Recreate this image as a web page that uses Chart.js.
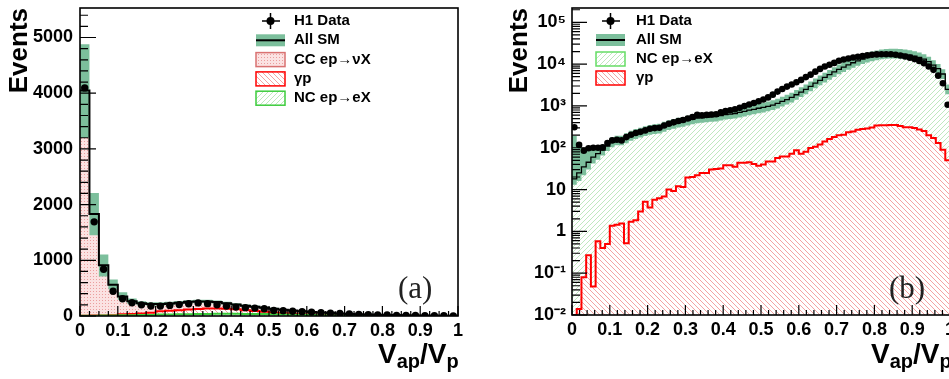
<!DOCTYPE html>
<html>
<head>
<meta charset="utf-8">
<script src="https://cdn.jsdelivr.net/npm/chart.js@4.4.1/dist/chart.umd.min.js"></script>
<style>
html, body { margin: 0; padding: 0; background: #fff; overflow: hidden; }
#wrap { position: relative; width: 949px; height: 379px; overflow: hidden; background: #fff; }
canvas { position: absolute; top: 0; }
.xt { position: absolute; top: 340px; font: bold 28px/28px "Liberation Sans", Arial, sans-serif; white-space: nowrap; color: #000; }
.xt span { font-size: 20px; position: relative; top: 5px; }
.tag { position: absolute; font: 31px/31px "Liberation Serif", serif; color: #222; }
</style>
</head>
<body>
<div id="wrap">
  <canvas id="chartA" width="470" height="379" style="left:0"></canvas>
  <canvas id="chartB" width="500" height="379" style="left:480px"></canvas>
  <div class="xt" style="left:378px">V<span>ap</span>/V<span>p</span></div>
  <div class="xt" style="left:871px">V<span>ap</span>/V<span>p</span></div>
  <div class="tag" style="left:398px;top:272px">(a)</div>
  <div class="tag" style="left:889px;top:272px">(b)</div>
</div>
<script>
// tick values / labels
const xTickVals = [0, 0.1, 0.2, 0.3, 0.4, 0.5, 0.6, 0.7, 0.8, 0.9, 1]
const xTickLabels = ['0', '0.1', '0.2', '0.3', '0.4', '0.5', '0.6', '0.7', '0.8', '0.9', '1']
const yTickValsA = [0, 1000, 2000, 3000, 4000, 5000]
const yTickLabelsA = ['0', '1000', '2000', '3000', '4000', '5000']
const yTickValsB = [0.01, 0.1, 1, 10, 100, 1000, 10000, 100000]
const yTickLabelsB = ['10⁻²', '10⁻¹', '1', '10', '10²', '10³', '10⁴', '10⁵']

// panel (a): 40 bins of 0.025
const dataA = [4095,1690,840,445,310,238,200,180,178,190,205,220,235,222,200,178,160,150,142,130,100,95,85,78,70,60,52,45,38,30,25,20,17,12,10,8,6,5,4,3]
const smA = [4050,1830,910,560,350,265,230,215,215,225,240,255,262,262,250,230,205,185,168,150,130,112,97,84,72,62,53,45,38,32,27,23,19,16,13,11,9,7,6,5]
const smHiA = [4880,2210,1105,655,425,315,265,245,245,255,270,285,292,292,280,258,230,207,188,168,146,126,109,94,81,70,60,51,43,36,31,26,22,18,15,12,10,8,7,6]
const smLoA = [3200,1450,710,480,290,220,195,185,185,195,210,225,232,232,220,202,180,163,148,132,114,98,85,74,63,54,46,39,33,28,23,20,16,14,11,10,8,6,5,4]
const ncA = [5,5,8,10,12,15,18,20,25,28,30,32,35,38,40,40,40,38,36,34,30,27,24,21,18,15,12,10,8,7,6,5,4,4,3,3,2,2,2,2]
const gpA = [1,2,3,5,18,23,27,40,60,67,75,83,90,97,95,90,80,67,54,41,30,23,16,11,8,6,4,3,2,2,1,1,1,1,1,0,0,0,0,0]
const ccA = [4040,1820,900,545,320,227,185,155,130,130,135,140,137,127,115,100,85,80,78,75,70,62,57,52,46,41,37,32,28,23,20,17,14,11,9,8,7,5,4,3]

// panel (b): 80 bins of 0.0125
const dataB = [310,117,85,97,100,100,102,130,150,155,
  150,180,205,225,240,260,285,295,300,340,
  375,405,435,460,500,545,610,595,610,625,
  635,700,750,790,830,900,990,1080,1180,1300,
  1420,1600,1860,2200,2550,2900,3250,3700,4200,4900,
  5600,6600,7700,8800,9700,10700,12000,12900,13600,14400,
  15000,15600,16200,16700,17100,17300,17300,17200,16800,16100,
  15200,14300,13200,11900,10500,8800,7300,5300,3500,1070]
const smB = [18,25,35,45,60,72,88,110,135,150,
  150,170,195,215,230,250,270,280,290,320,
  350,375,400,420,450,480,510,520,535,550,
  560,590,620,640,660,700,740,790,830,880,
  920,980,1050,1150,1280,1420,1600,1850,2150,2500,
  2950,3500,4100,4800,5600,6500,7500,8500,9600,10800,
  12000,13200,14400,15500,16400,17100,17600,17900,17900,17700,
  17200,16500,15600,14500,13200,11500,9500,7800,5800,2500]
const smHiB = [190,130,100,100,105,110,118,143,175,195,
  195,221,254,280,299,325,351,364,377,416,
  455,488,520,546,585,624,663,676,696,715,
  728,767,806,832,858,910,962,1027,1079,1144,
  1196,1274,1365,1495,1664,1846,2080,2405,2795,3250,
  3835,4550,5330,6240,7280,8450,9750,11050,12480,14040,
  15600,17160,18720,20150,21320,22230,22880,23270,23270,23010,
  22360,21450,20280,18850,17160,14950,12350,10140,7540,3250]
const smLoB = [13,16,22,30,42,52,65,84,103,114,
  114,129,148,163,175,190,205,213,220,243,
  266,285,304,319,342,365,388,395,407,418,
  426,448,471,486,502,532,562,600,631,669,
  699,745,798,874,973,1079,1216,1406,1634,1900,
  2242,2660,3116,3648,4256,4940,5700,6460,7296,8208,
  9120,10032,10944,11780,12464,12996,13376,13604,13604,13452,
  13072,12540,11856,11020,10032,8740,7220,5928,4408,1900]
const ncB = [18,25,35,45,60,72,87,109,134,148,
  148,168,193,213,227,245,266,274,284,313,
  340,366,388,408,430,460,488,495,510,520,
  529,558,582,602,625,656,696,745,789,843,
  880,933,1003,1093,1218,1358,1528,1763,2078,2420,
  2851,3394,3980,4658,5438,6320,7300,8295,9365,10555,
  11730,12920,14110,15195,16060,16755,17255,17550,17550,17370,
  16890,16190,15305,14225,12950,11300,9335,7670,5710,2460]
const gpB = [0.01,0.014,0.08,0.27,0.048,0.58,0.40,0.50,1.37,1.45,
  1.55,0.52,1.7,1.85,3.0,5.1,3.7,5.7,6.2,6.8,
  10,9.3,12,11.5,19.5,20,22,25,25,30,
  31,32,38,38,35,44,44,45,41,37,
  40,47,47,57,62,62,72,87,72,80,
  99,106,120,142,162,180,200,205,235,245,
  270,280,290,305,340,345,345,350,350,330,
  310,310,295,275,250,200,170,130,90,50]

const bandColor = '#7cbf9c'
const fontFamily = '"Liberation Sans", Arial, sans-serif'

Chart.defaults.font.family = fontFamily
Chart.defaults.color = '#000'

// step histogram: points at left bin edges plus closing point
function hist(vals) {
    const w = 1 / vals.length
    const pts = vals.map((v, i) => ({x: i * w, y: v}))
    pts.push({x: 1, y: vals[vals.length - 1]})
    return pts
}
function centres(vals) {
    const w = 1 / vals.length
    return vals.map((v, i) => ({x: (i + 0.5) * w, y: v}))
}

function makePattern(ctx, kind) {
    const c = document.createElement('canvas')
    const size = kind === 'dots' ? 3 : 5
    c.width = size; c.height = size
    const g = c.getContext('2d')
    if (kind === 'dots') {
        g.fillStyle = '#fbe2e2'; g.fillRect(0, 0, 3, 3)
        g.fillStyle = '#eb9e9e'; g.fillRect(0, 0, 1, 1)
    } else {
        g.fillStyle = '#fff'; g.fillRect(0, 0, 5, 5)
        g.fillStyle = kind === 'red' ? '#f4a3a3' : '#bfe8bf'
        for (let i = 0; i < 5; i++) g.fillRect(i, kind === 'red' ? i : 4 - i, 1, 1)
    }
    return ctx.createPattern(c, 'repeat')
}

// ROOT-like frame with inside ticks and a top-aligned y title
const rootFrame = {
    id: 'rootFrame',
    afterDatasetsDraw(chart, args, o) {
        const {ctx, chartArea: a, scales: {x, y}} = chart
        ctx.save()
        ctx.strokeStyle = '#000'
        ctx.lineWidth = 1.2
        ctx.beginPath()
        const nx = Math.round((x.max - x.min) / o.xStep)
        for (let i = 0; i <= nx; i++) {
            const px = x.getPixelForValue(x.min + i * o.xStep)
            ctx.moveTo(px, a.bottom); ctx.lineTo(px, a.bottom - (i % o.xPer === 0 ? 10 : 5))
        }
        if (o.log) {
            for (let e = Math.round(Math.log10(y.min)); Math.pow(10, e) <= y.max; e++) {
                for (let k = 1; k <= 9; k++) {
                    const v = k * Math.pow(10, e)
                    if (v > y.max) break
                    const py = y.getPixelForValue(v)
                    ctx.moveTo(a.left, py); ctx.lineTo(a.left + (k === 1 ? 15 : 8), py)
                }
            }
        } else {
            const ny = Math.floor((y.max - y.min) / o.yStep)
            for (let i = 0; i <= ny; i++) {
                const py = y.getPixelForValue(y.min + i * o.yStep)
                ctx.moveTo(a.left, py); ctx.lineTo(a.left + (i % o.yPer === 0 ? 16 : 8), py)
            }
        }
        ctx.stroke()
        ctx.lineWidth = 1.6
        ctx.strokeRect(a.left, a.top, a.width, a.height)

        // y title, right-aligned at the top of the axis like ROOT
        ctx.translate(o.titleX, a.top)
        ctx.rotate(-Math.PI / 2)
        ctx.font = 'bold 26px ' + fontFamily
        ctx.fillStyle = '#000'
        ctx.textAlign = 'right'
        ctx.textBaseline = 'middle'
        ctx.fillText(y.options.title.text, 0, 0)
        ctx.restore()
    }
}

// legend drawn inside the frame, ROOT style
const rootLegend = {
    id: 'rootLegend',
    afterDraw(chart, args, o) {
        const ctx = chart.ctx
        const sets = chart.data.datasets
        ctx.save()
        ctx.font = 'bold 15px ' + fontFamily
        ctx.textBaseline = 'middle'
        o.items.forEach((it, i) => {
            const ds = sets[it.ds]
            const x = o.x, y = o.y + i * o.dy, w = 29
            if (it.kind === 'data') {
                ctx.strokeStyle = '#000'; ctx.lineWidth = 1.5
                ctx.beginPath()
                ctx.moveTo(x + 6, y); ctx.lineTo(x + w - 5, y)
                ctx.moveTo(x + w / 2, y - 8); ctx.lineTo(x + w / 2, y + 8)
                ctx.stroke()
                ctx.fillStyle = '#000'
                ctx.beginPath(); ctx.arc(x + w / 2, y, 4, 0, 2 * Math.PI); ctx.fill()
            } else if (it.kind === 'band') {
                ctx.fillStyle = bandColor; ctx.fillRect(x, y - 6, w, 12)
                ctx.strokeStyle = '#000'; ctx.lineWidth = 2
                ctx.beginPath(); ctx.moveTo(x, y); ctx.lineTo(x + w, y); ctx.stroke()
            } else {
                ctx.fillStyle = ds.backgroundColor; ctx.fillRect(x, y - 7, w, 14)
                ctx.strokeStyle = ds.borderColor; ctx.lineWidth = 1.5
                ctx.strokeRect(x, y - 7, w, 14)
            }
            ctx.fillStyle = '#000'
            ctx.fillText(ds.label, o.tx, y)
        })
        ctx.restore()
    }
}

// fixed axis sizes; drop the extra room Chart.js keeps for end labels
function fixSize(w, h) {
    return s => {
        if (w) s.width = w
        if (h) s.height = h
        s.paddingTop = 0; s.paddingBottom = 0
        s.paddingLeft = 0; s.paddingRight = 0
    }
}

function xScale(height) {
    return {
        type: 'linear', min: 0, max: 1,
        grid: {display: false, drawTicks: false}, border: {display: false},
        afterBuildTicks: s => { s.ticks = xTickVals.map(v => ({value: v})) },
        afterFit: fixSize(0, height),
        ticks: {callback: (v, i) => xTickLabels[i], padding: 4, maxRotation: 0, autoSkip: false,
            font: {size: 18, weight: 'bold'}}
    }
}

// ---------- panel (a) ----------
// stacking follows "order": NC at the bottom, then gamma-p, then CC
const ctxA = document.getElementById('chartA').getContext('2d')
new Chart(ctxA, {
    type: 'line',
    data: {
        datasets: [
            {label: 'H1 Data', data: centres(dataA), showLine: false, pointRadius: 3.7,
             pointBackgroundColor: '#000', pointBorderWidth: 0, stack: 'd', order: 0},
            {label: 'All SM', data: hist(smA), stepped: true, borderColor: '#000', borderWidth: 2,
             pointRadius: 0, fill: false, stack: 's', order: 1},
            {label: 'SM up', data: hist(smHiA), stepped: true, borderColor: 'rgba(0,0,0,0)', borderWidth: 0,
             pointRadius: 0, fill: '+1', backgroundColor: bandColor, stack: 'u', order: 2},
            {label: 'SM down', data: hist(smLoA), stepped: true, borderColor: 'rgba(0,0,0,0)', borderWidth: 0,
             pointRadius: 0, fill: false, stack: 'l', order: 3},
            {label: 'NC ep→eX', data: hist(ncA), stepped: true, borderColor: '#3ccc3c', borderWidth: 2,
             pointRadius: 0, fill: 'origin', backgroundColor: makePattern(ctxA, 'green'), stack: 'mc', order: 4},
            {label: 'γp', data: hist(gpA), stepped: true, borderColor: '#ff0000', borderWidth: 2,
             pointRadius: 0, fill: '-1', backgroundColor: makePattern(ctxA, 'red'), stack: 'mc', order: 5},
            {label: 'CC ep→νX', data: hist(ccA), stepped: true, borderColor: '#d97272', borderWidth: 1,
             pointRadius: 0, fill: '-1', backgroundColor: makePattern(ctxA, 'dots'), stack: 'mc', order: 6}
        ]
    },
    options: {
        responsive: false, animation: false, devicePixelRatio: 1, events: [],
        layout: {padding: {top: 8, right: 12, left: 0, bottom: 0}},
        plugins: {
            legend: {display: false}, tooltip: {enabled: false},
            rootFrame: {xStep: 0.025, xPer: 4, yStep: 200, yPer: 5, titleX: 20},
            rootLegend: {x: 256, tx: 294, y: 21, dy: 19.3,
                items: [{ds: 0, kind: 'data'}, {ds: 1, kind: 'band'}, {ds: 6}, {ds: 5}, {ds: 4}]}
        },
        scales: {
            x: xScale(63),
            y: {
                type: 'linear', min: 0, max: 5530, stacked: true,
                grid: {display: false, drawTicks: false}, border: {display: false},
                afterBuildTicks: s => { s.ticks = yTickValsA.map(v => ({value: v})) },
                afterFit: fixSize(80, 0),
                title: {display: false, text: 'Events'},
                ticks: {callback: (v, i) => yTickLabelsA[i], padding: 7, autoSkip: false,
                    font: {size: 18, weight: 'bold'}}
            }
        }
    },
    plugins: [rootFrame, rootLegend]
})

// ---------- panel (b) ----------
const ctxB = document.getElementById('chartB').getContext('2d')
new Chart(ctxB, {
    type: 'line',
    data: {
        datasets: [
            {label: 'H1 Data', data: centres(dataB), showLine: false, pointRadius: 3.3,
             pointBackgroundColor: '#000', pointBorderWidth: 0, order: 0},
            {label: 'All SM', data: hist(smB), stepped: true, borderColor: '#000', borderWidth: 1.3,
             pointRadius: 0, fill: false, order: 1},
            {label: 'SM up', data: hist(smHiB), stepped: true, borderColor: 'rgba(0,0,0,0)', borderWidth: 0,
             pointRadius: 0, fill: '+1', backgroundColor: bandColor, order: 2},
            {label: 'SM down', data: hist(smLoB), stepped: true, borderColor: 'rgba(0,0,0,0)', borderWidth: 0,
             pointRadius: 0, fill: false, order: 3},
            {label: 'NC ep→eX', data: hist(ncB), stepped: true, borderColor: '#66dd66', borderWidth: 1,
             pointRadius: 0, fill: 'start', backgroundColor: makePattern(ctxB, 'green'), order: 5},
            {label: 'γp', data: hist(gpB), stepped: true, borderColor: '#ff0000', borderWidth: 2,
             pointRadius: 0, fill: 'start', backgroundColor: makePattern(ctxB, 'red'), order: 4}
        ]
    },
    options: {
        responsive: false, animation: false, devicePixelRatio: 1, events: [],
        layout: {padding: {top: 8, right: 30, left: 0, bottom: 0}},
        plugins: {
            legend: {display: false}, tooltip: {enabled: false},
            rootFrame: {xStep: 0.02, xPer: 5, log: true, titleX: 40},
            rootLegend: {x: 116, tx: 156, y: 21, dy: 19,
                items: [{ds: 0, kind: 'data'}, {ds: 1, kind: 'band'}, {ds: 4}, {ds: 5}]}
        },
        scales: {
            x: xScale(64),
            y: {
                type: 'logarithmic', min: 0.01, max: 220000,
                grid: {display: false, drawTicks: false}, border: {display: false},
                afterBuildTicks: s => { s.ticks = yTickValsB.map(v => ({value: v})) },
                afterFit: fixSize(92, 0),
                title: {display: false, text: 'Events'},
                ticks: {callback: (v, i) => yTickLabelsB[i], padding: 6, autoSkip: false,
                    font: {size: 18, weight: 'bold'}}
            }
        }
    },
    plugins: [rootFrame, rootLegend]
})
</script>
</body>
</html>
